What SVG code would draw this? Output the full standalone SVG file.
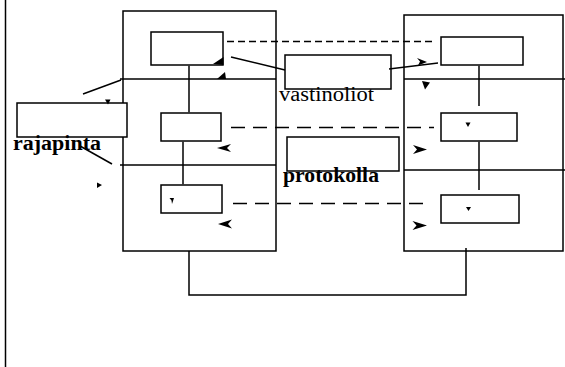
<svg xmlns="http://www.w3.org/2000/svg" width="565" height="367" viewBox="0 0 565 367">
<style>
.s{fill:none;stroke:#000;stroke-width:1.5}
.b{fill:#fff;stroke:#000;stroke-width:1.5}
.d1{fill:none;stroke:#000;stroke-width:1.5;stroke-dasharray:7 4}
.d2{fill:none;stroke:#000;stroke-width:1.5;stroke-dasharray:14 8}
.h{fill:#000;stroke:none}
.t{font-family:"Liberation Serif","Times New Roman",serif;font-size:20px;fill:#000}
.tb{font-family:"Liberation Serif","Times New Roman",serif;font-size:20px;font-weight:bold;fill:#000}
</style>
<rect width="565" height="367" fill="#fff"/>
<line class="s" x1="5.5" y1="0" x2="5.5" y2="367"/>
<g id="left-stack">
<rect class="s" x="123" y="11" width="153" height="240"/>
<line class="s" x1="120" y1="79" x2="276" y2="79"/>
<line class="s" x1="120" y1="165" x2="276" y2="165"/>
</g>
<g id="right-stack">
<rect class="s" x="404" y="15" width="159" height="236"/>
<line class="s" x1="404" y1="79" x2="565" y2="79"/>
<line class="s" x1="404" y1="170" x2="565" y2="170"/>
</g>
<g id="box-l1"><rect class="b" x="151" y="32" width="72" height="33"/></g>
<g id="box-l2"><rect class="b" x="161" y="113" width="60" height="28"/></g>
<g id="box-l3"><rect class="b" x="161" y="185" width="61" height="28"/></g>
<g id="box-r1"><rect class="b" x="441" y="37" width="82" height="28"/></g>
<g id="box-r2"><rect class="b" x="441" y="113" width="76" height="28"/></g>
<g id="box-r3"><rect class="b" x="441" y="195" width="78" height="28"/></g>
<g id="vastinoliot"><rect class="b" x="285" y="55" width="106" height="34"/><text class="t" x="279" y="101" textLength="95" lengthAdjust="spacingAndGlyphs">vastinoliot</text></g>
<g id="protokolla"><rect class="b" x="287" y="137" width="112" height="34"/><text class="tb" x="283" y="182" textLength="96" lengthAdjust="spacingAndGlyphs">protokolla</text></g>
<g id="rajapinta"><rect class="b" x="17" y="103" width="110" height="34"/><text class="tb" x="13" y="150" textLength="88" lengthAdjust="spacingAndGlyphs">rajapinta</text></g>
<g id="connectors">
<line class="s" x1="189" y1="65.7" x2="189" y2="112.3"/>
<line class="s" x1="183" y1="141.7" x2="183" y2="184.3"/>
<line class="s" x1="479" y1="65.7" x2="479" y2="106"/>
<line class="s" x1="479" y1="141.7" x2="479" y2="190"/>
<polyline class="s" points="189,251 189,295 466,295 466,248"/>
<line class="d1" x1="227" y1="41.5" x2="433" y2="41.5"/>
<line class="d2" x1="231" y1="127.5" x2="434" y2="127.5"/>
<line class="d2" x1="233" y1="203.5" x2="427" y2="203.5"/>
<line class="s" x1="231" y1="57" x2="285" y2="70"/>
<line class="s" x1="389" y1="69" x2="438" y2="63"/>
<line class="s" x1="83" y1="94" x2="121" y2="80"/>
<line class="s" x1="80" y1="146" x2="112" y2="164"/>
<polygon class="h" points="223.5,57 223.5,65 213,64"/>
<polygon class="h" points="217,79 225,72 226,79"/>
<polygon class="h" points="417,58 427,62 418,65.5 420,61.5"/>
<polygon class="h" points="422,81 430,82.5 425,89.5"/>
<polygon class="h" points="465.5,122.5 470.5,122.5 468,127"/>
<polygon class="h" points="466,207 471,207 468.5,211"/>
<polygon class="h" points="169.5,198 174,198 172,204 171.5,200.5"/>
<polygon class="h" points="105,99.5 110.5,99.5 108,104.5"/>
<polygon class="h" points="97,182.5 102,185 97,188"/>
<polygon class="h" points="413,145 427,149.5 413,154 417,149.5"/>
<polygon class="h" points="412.5,221 427,225.5 412.5,230 416.5,225.5"/>
<polygon class="h" points="231,144 217,148 231,152 227,148"/>
<polygon class="h" points="232,219.5 218,224 232,228.5 228,224"/>
</g>
</svg>
